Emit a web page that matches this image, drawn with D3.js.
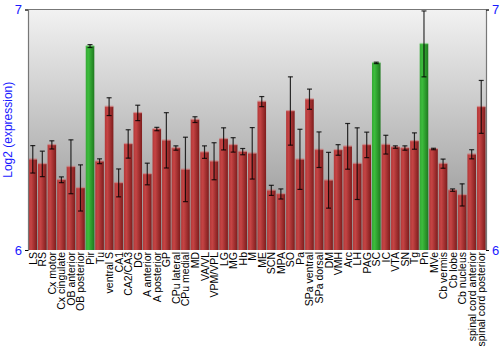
<!DOCTYPE html>
<html>
<head>
<meta charset="utf-8">
<script src="https://cdn.jsdelivr.net/npm/d3@7"></script>
<style>
  html, body { margin: 0; padding: 0; background: #fff; }
  svg { display: block; font-family: "Liberation Sans", Arial, sans-serif; }
</style>
</head>
<body>
<svg id="chart" width="500" height="350"></svg>
<script>
// Tissue names along the x axis
const tissues = ["LS", "RS", "Cx motor", "Cx cingulate", "OB anterior", "OB posterior", "Pir", "Tu",
  "ventral S", "CA1", "CA2/CA3", "DG", "A anterior", "A posterior", "GP", "CPu lateral", "CPu medial",
  "MD", "VA/VL", "VPM/VPL", "LG", "MG", "Hb", "M", "ME", "SCN", "MPA", "SO", "Pa", "SPa ventral",
  "SPa dorsal", "DM", "VMH", "Arc", "LH", "PAG", "SC", "IC", "VTA", "SN", "Tg", "Pn", "MVe",
  "Cb vermis", "Cb lobe", "Cb nucleus", "spinal cord anterior", "spinal cord posterior"];

// Mean log2 expression per tissue
const expression = [6.377, 6.358, 6.437, 6.292, 6.346, 6.258, 6.848, 6.369,
  6.596, 6.279, 6.441, 6.570, 6.316, 6.503, 6.456, 6.424, 6.335,
  6.542, 6.407, 6.369, 6.462, 6.437, 6.409, 6.402, 6.617, 6.248, 6.233, 6.578, 6.377, 6.627,
  6.417, 6.290, 6.416, 6.431, 6.359, 6.437, 6.778, 6.438, 6.428, 6.424, 6.453, 6.857, 6.420,
  6.359, 6.249, 6.229, 6.398, 6.595];

// Error (± spread) per tissue
const spread = [0.057, 0.053, 0.017, 0.012, 0.112, 0.096, 0.006, 0.010,
  0.037, 0.058, 0.059, 0.032, 0.045, 0.007, 0.115, 0.009, 0.134,
  0.012, 0.026, 0.077, 0.046, 0.030, 0.013, 0.107, 0.021, 0.021, 0.021, 0.142, 0.125, 0.042,
  0.074, 0.116, 0.022, 0.095, 0.149, 0.053, 0.003, 0.039, 0.005, 0.009, 0.034, 0.137, 0.003,
  0.019, 0.005, 0.046, 0.019, 0.110];

// Tissues highlighted in green
const highlighted = ["Pir", "SC", "Pn"];

// Axis range and tick labels
const yDomain = [6, 7];
const yTicks = [6, 7];

const svg = d3.select("#chart");
const margin = { top: 9.5, right: 14, bottom: 100, left: 28 };
const W = 500, H = 350;
const x0 = margin.left, x1 = W - margin.right;
const y0 = H - margin.bottom, y1 = margin.top;

const x = d3.scaleBand().domain(tissues).range([x0, x1]).paddingInner(0.1).paddingOuter(0.05);
const y = d3.scaleLinear().domain(yDomain).range([y0, y1]);

const defs = svg.append("defs");
const bg = defs.append("linearGradient").attr("id", "bg").attr("x1", 0).attr("y1", 0).attr("x2", 0).attr("y2", 1);
bg.append("stop").attr("offset", "0%").attr("stop-color", "#f2f2f2");
bg.append("stop").attr("offset", "100%").attr("stop-color", "#8e8e8e");

function barGradient(id, light, mid, dark) {
  const g = defs.append("linearGradient").attr("id", id).attr("x1", 0).attr("y1", 0).attr("x2", 1).attr("y2", 0);
  g.append("stop").attr("offset", "0%").attr("stop-color", mid);
  g.append("stop").attr("offset", "30%").attr("stop-color", light);
  g.append("stop").attr("offset", "100%").attr("stop-color", dark);
}
barGradient("red", "#c54444", "#b33838", "#7e1c1c");
barGradient("green", "#3cbc3c", "#35a835", "#1f7a1f");

// Plot background
svg.append("rect").attr("x", x0).attr("y", y1).attr("width", x1 - x0).attr("height", y0 - y1)
  .attr("fill", "url(#bg)");

// Bars
const bars = svg.append("g");
tissues.forEach((t, i) => {
  const v = expression[i];
  const green = highlighted.includes(t);
  bars.append("rect")
    .attr("x", x(t)).attr("y", y(v))
    .attr("width", x.bandwidth()).attr("height", y(yDomain[0]) - y(v))
    .attr("fill", green ? "url(#green)" : "url(#red)");
  // faint top edge
  bars.append("rect")
    .attr("x", x(t)).attr("y", y(v) - 1)
    .attr("width", x.bandwidth()).attr("height", 1.5)
    .attr("fill", green ? "#6ccc6c" : "#d07070").attr("opacity", 0.6);
});

// Error bars
const err = svg.append("g").attr("stroke", "#000").attr("stroke-opacity", 0.8).attr("stroke-width", 1.2);
tissues.forEach((t, i) => {
  const cx = x(t) + x.bandwidth() / 2;
  const lo = y(expression[i] - spread[i]);
  const hi = y(expression[i] + spread[i]);
  err.append("line").attr("x1", cx).attr("x2", cx).attr("y1", lo).attr("y2", hi);
  err.append("line").attr("x1", cx - 2.5).attr("x2", cx + 2.5).attr("y1", lo).attr("y2", lo);
  err.append("line").attr("x1", cx - 2.5).attr("x2", cx + 2.5).attr("y1", hi).attr("y2", hi);
});

// Frame line along the top
const frame = svg.append("g").attr("stroke", "#777").attr("stroke-width", 1.2);
frame.append("line").attr("x1", x0).attr("x2", x1).attr("y1", y1).attr("y2", y1);

// Left and right axes
const leftAxis = d3.axisLeft(y).tickValues(yTicks).tickFormat(d3.format("d")).tickSizeInner(3).tickSizeOuter(3);
const rightAxis = d3.axisRight(y).tickValues(yTicks).tickFormat(d3.format("d")).tickSizeInner(3).tickSizeOuter(3);
[[leftAxis, x0], [rightAxis, x1]].forEach(([ax, pos]) => {
  const g = svg.append("g").attr("transform", `translate(${pos},0)`).call(ax);
  g.select(".domain").attr("stroke", "#777").attr("stroke-width", 1.2);
  g.selectAll(".tick line").attr("stroke", "#000");
  g.selectAll(".tick text").attr("fill", "#1a1aff").style("font-size", "13px")
    .style("font-family", "'Liberation Sans', Arial, sans-serif");
});

// Category labels, rotated
svg.append("g").selectAll("text").data(tissues).join("text")
  .attr("transform", d => `translate(${x(d) + x.bandwidth() / 2 + 4},${y0 + 2}) rotate(-90)`)
  .attr("text-anchor", "end")
  .style("font-size", "10.5px")
  .attr("fill", "#000")
  .text(d => d);

// Y axis title
svg.append("text")
  .attr("transform", `translate(12,${(y0 + y1) / 2}) rotate(-90)`)
  .attr("text-anchor", "middle")
  .attr("fill", "#1a1aff")
  .style("font-size", "12px")
  .text("Log2 (expression)");
</script>
</body>
</html>
